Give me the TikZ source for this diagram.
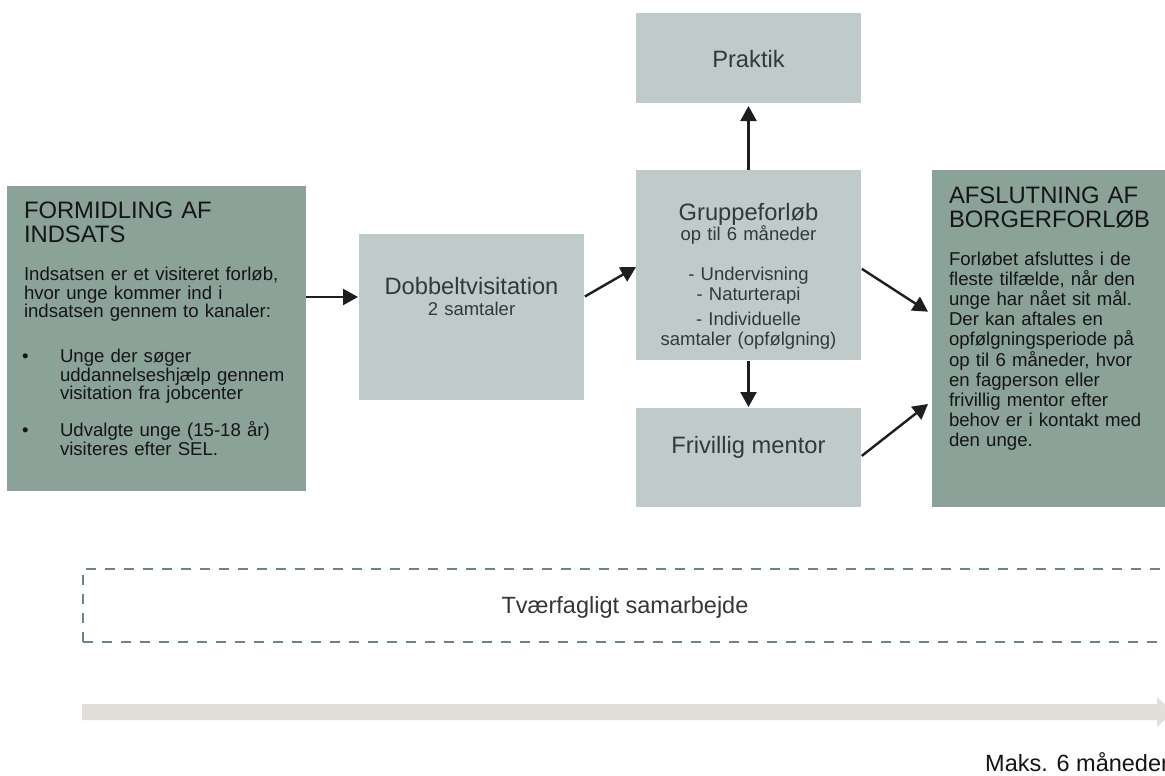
\documentclass[tikz,border=0pt]{standalone}
\usepackage{fontspec}
\setmainfont{Liberation Sans}
\usetikzlibrary{arrows.meta}
\definecolor{darkbox}{HTML}{8AA298}
\definecolor{lightbox}{HTML}{BFCBCB}
\definecolor{txtgray}{HTML}{333838}
\definecolor{txtdark}{HTML}{151515}
\definecolor{arrowc}{HTML}{1E1E1E}
\definecolor{dashc}{HTML}{6B8581}
\definecolor{barc}{HTML}{E2DEDA}
\newcommand\fsMain{\fontsize{23.7}{26}\selectfont}
\newcommand\fsTitle{\fontsize{23.8}{24.6}\selectfont}
\begin{document}
\begin{tikzpicture}[x=1pt,y=-1pt,
  box/.style={anchor=north west, inner sep=0pt, outer sep=0pt, draw=none},
  darkb/.style={box, fill=darkbox},
  lightb/.style={box, fill=lightbox, minimum width=225pt},
  arr/.style={draw=arrowc, line width=2.4pt, -{Triangle[length=15pt,width=16pt]}},
  lbl/.style={inner sep=0pt, outer sep=0pt, text=txtgray},
  dlbl/.style={inner sep=0pt, outer sep=0pt, text=txtdark, anchor=base west, align=left},
  dashbox/.style={box, draw=dashc, line width=2.5pt, dash pattern=on 10pt off 9pt}
]
\useasboundingbox (0,0) rectangle (1165,776);
\clip (0,0) rectangle (1165,776);
\fill[white] (0,0) rectangle (1165,776);

% boxes
\node[darkb, minimum width=299pt, minimum height=305pt] (left) at (7,186) {};
\node[lightb, minimum height=166pt] (dob) at (359,234) {};
\node[lightb, minimum height=190pt] (grp) at (636,170) {};
\node[lightb, minimum height=90pt] (prak) at (636,13) {};
\node[lightb, minimum height=99pt] (friv) at (636,408) {};
\node[darkb, minimum width=250pt, minimum height=337pt] (right) at (932,170) {};

% texts in light boxes
\node[lbl, anchor=base] (praktxt) at (748.5,67.3) {\fsMain Praktik};
\node[lbl, anchor=base, text width=225pt, align=center, font=\fontsize{18.5}{21}\selectfont] (dobtxt) at (471.5,294)
  {{\fsMain Dobbeltvisitation}\\2 samtaler};
\node[lbl, anchor=base, text width=225pt, align=center, font=\fontsize{18.5}{20}\selectfont] (grptxt) at (748.5,220)
  {{\fsMain Gruppeforløb}\\op til 6 måneder\\[20pt]- Undervisning\\- Naturterapi\\[5pt]- Individuelle\\samtaler (opfølgning)};
\node[lbl, anchor=base] (frivtxt) at (748.5,453) {\fsMain Frivillig mentor};

% left box texts
\node[dlbl, text width=285pt, font=\fsTitle] (lefttitle) at (24,218.3) {FORMIDLING AF\\INDSATS};
\node[dlbl, text width=285pt, font=\fontsize{18.6}{18.5}\selectfont] (leftbody) at (24,280.7)
  {Indsatsen er et visiteret forløb,\\hvor unge kommer ind i\\indsatsen gennem to kanaler:};
\node[dlbl, font=\fontsize{18.6}{17}\selectfont] (bul1) at (22,362.7) {•};
\node[dlbl, text width=245pt, font=\fontsize{18.6}{17}\selectfont] (item1) at (60,362.7)
  {Unge der søger\\uddannelseshjælp gennem\\visitation fra jobcenter};
\node[dlbl, font=\fontsize{18.6}{16}\selectfont] (bul2) at (22,436.7) {•};
\node[dlbl, text width=245pt, font=\fontsize{18.6}{16}\selectfont] (item2) at (60,436.7)
  {Udvalgte unge (15-18 år)\\visiteres efter SEL.};

% right box texts
\node[dlbl, text width=240pt, font=\fsTitle] (righttitle) at (949,203.3) {AFSLUTNING AF\\BORGERFORLØB};
\node[dlbl, text width=240pt, font=\fontsize{18.6}{20.2}\selectfont] (rightbody) at (949,265)
  {Forløbet afsluttes i de\\fleste tilfælde, når den\\unge har nået sit mål.\\Der kan aftales en\\opfølgningsperiode på\\op til 6 måneder, hvor\\en fagperson eller\\frivillig mentor efter\\behov er i kontakt med\\den unge.};

% connectors
\draw[arr, shorten >=1pt] ([yshift=41.5pt]left.east) -- ([yshift=20pt]dob.west);
\draw[arr, shorten <=1pt] ([yshift=20pt]dob.east) -- ([yshift=-2pt]grp.west);
\draw[arr, shorten >=3pt] (grp.north) -- (prak.south);
\draw[arr, shorten <=1pt, shorten >=1pt] (grp.south) -- (friv.north);
\draw[arr, shorten <=1pt] ([yshift=-3.3pt]grp.east) -- ([xshift=-4pt,yshift=26.8pt]right.west);
\draw[arr, shorten <=1pt] ([yshift=1pt]friv.east) -- ([xshift=-4pt,yshift=-65.5pt]right.west);

% collaboration frame
\node[dashbox, minimum width=1110pt, minimum height=73pt] (collab) at (83,569) {};
\node[lbl, anchor=base, font=\fontsize{23.5}{26}\selectfont] (collabtxt) at (625,613.3) {Tværfagligt samarbejde};

% time bar
\fill[barc] (82,704) -- (1157,704) -- (1157,697) -- (1173,712) -- (1157,727) -- (1157,720) -- (82,720) -- cycle;
\node[inner sep=0pt, anchor=base west, text=txtdark, font=\fontsize{23.5}{26}\selectfont] (maks) at (985,771) {Maks. 6 måneder};
\end{tikzpicture}
\end{document}
